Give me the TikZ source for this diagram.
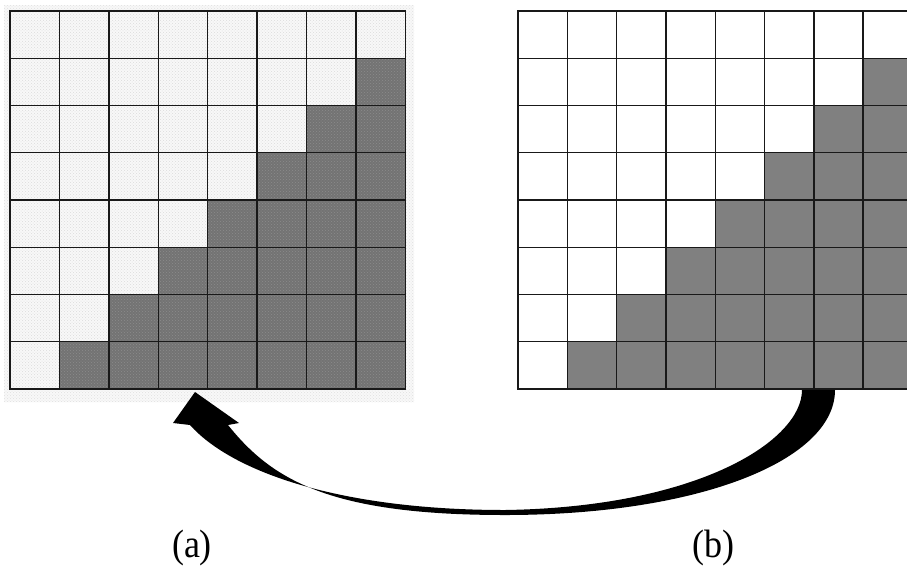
\documentclass[tikz,border=0pt]{standalone}
\usepackage{fontspec}
\setmainfont{Liberation Serif}
\usetikzlibrary{patterns}
\definecolor{cellgray}{RGB}{128,128,128}
\definecolor{texgray}{RGB}{115,115,115}
\definecolor{texwhite}{RGB}{248,248,248}
\tikzset{
  cellline/.style={draw=black!90,line width=1.4pt},
  caption/.style={font=\fontsize{36}{40}\selectfont,inner sep=0pt,yscale=1.1}
}

\begin{document}
\begin{tikzpicture}[x=1pt,y=-1pt]
\useasboundingbox (0,0) rectangle (907,574);
% textured grid (a)
\fill[texwhite] (4,5) rectangle (414,402);
\fill[pattern=crosshatch dots,pattern color=black!12] (4,5) rectangle (414,402);
\foreach \r in {0,...,7}
  \foreach \c in {0,...,7}{
    \ifnum\numexpr\r+\c\relax>7
      \filldraw[cellline,fill=texgray] (10+49.4*\c,11+47.25*\r) rectangle ++(49.4,47.25);
      \fill[pattern=crosshatch dots,pattern color=black!45] (10+49.4*\c,11+47.25*\r) rectangle ++(49.4,47.25);
    \else
      \filldraw[cellline,fill=texwhite] (10+49.4*\c,11+47.25*\r) rectangle ++(49.4,47.25);
      \fill[pattern=crosshatch dots,pattern color=black!14] (10+49.4*\c,11+47.25*\r) rectangle ++(49.4,47.25);
    \fi
  }
\foreach \c in {0,...,8}
  \draw[cellline] (10+49.4*\c,11) -- ++(0,378);
\foreach \r in {0,...,8}
  \draw[cellline] (10,11+47.25*\r) -- ++(395.2,0);
% plain grid (b), runs off the right edge
\foreach \r in {0,...,7}
  \foreach \c in {0,...,7}{
    \ifnum\numexpr\r+\c\relax>7
      \filldraw[cellline,fill=cellgray] (518+49.3*\c,11+47.25*\r) rectangle ++(49.3,47.25);
    \else
      \filldraw[cellline,fill=white] (518+49.3*\c,11+47.25*\r) rectangle ++(49.3,47.25);
    \fi
  }
\coordinate (tail) at (818.5,390);
\coordinate (head) at (195,392);
% the big curved arrow from (b) back to (a)
\fill[black] ([xshift=-16.5pt]tail)
  .. controls +(0,50) and (700,507) .. (505,510)
  .. controls (340,510) and (232,472) .. ([xshift=-5pt,yshift=-33pt]head)
  -- ([xshift=-22pt,yshift=-31pt]head) -- (head) -- ([xshift=44pt,yshift=-31pt]head)
  -- ([xshift=33pt,yshift=-33pt]head)
  .. controls (272,480) and (330,515) .. (505,515)
  .. controls (700,515) and (835,460) .. ([xshift=16.5pt]tail) -- cycle;
\node[caption] (labA) at (192,548) {(a)};
\node[caption] (labB) at (713,548) {(b)};
\end{tikzpicture}
\end{document}
